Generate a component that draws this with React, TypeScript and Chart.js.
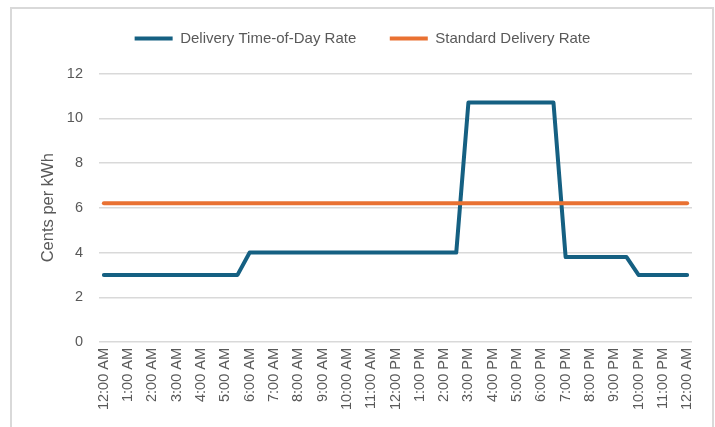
import React, { useEffect, useRef } from "react";
import { Chart, registerables } from "chart.js";

Chart.register(...registerables);

// Hourly tick labels along the x axis
const hourLabels = [
  "12:00 AM", "1:00 AM", "2:00 AM", "3:00 AM", "4:00 AM", "5:00 AM",
  "6:00 AM", "7:00 AM", "8:00 AM", "9:00 AM", "10:00 AM", "11:00 AM",
  "12:00 PM", "1:00 PM", "2:00 PM", "3:00 PM", "4:00 PM", "5:00 PM",
  "6:00 PM", "7:00 PM", "8:00 PM", "9:00 PM", "10:00 PM", "11:00 PM",
  "12:00 AM",
];

// Half-hour slot values (slot 0 = 12:00 AM ... slot 48 = next 12:00 AM)
const touRate = [
  3.0, 3.0, 3.0, 3.0, 3.0, 3.0, 3.0, 3.0, 3.0, 3.0, 3.0, 3.0,
  4.0, 4.0, 4.0, 4.0, 4.0, 4.0, 4.0, 4.0, 4.0, 4.0, 4.0, 4.0,
  4.0, 4.0, 4.0, 4.0, 4.0, 4.0,
  10.7, 10.7, 10.7, 10.7, 10.7, 10.7, 10.7, 10.7,
  3.8, 3.8, 3.8, 3.8, 3.8, 3.8,
  3.0, 3.0, 3.0, 3.0, 3.0,
];

const standardRate = [
  6.2, 6.2, 6.2, 6.2, 6.2, 6.2, 6.2, 6.2, 6.2, 6.2, 6.2, 6.2,
  6.2, 6.2, 6.2, 6.2, 6.2, 6.2, 6.2, 6.2, 6.2, 6.2, 6.2, 6.2,
  6.2, 6.2, 6.2, 6.2, 6.2, 6.2, 6.2, 6.2, 6.2, 6.2, 6.2, 6.2,
  6.2, 6.2, 6.2, 6.2, 6.2, 6.2, 6.2, 6.2, 6.2, 6.2, 6.2, 6.2,
  6.2,
];

const seriesNames = ["Delivery Time-of-Day Rate", "Standard Delivery Rate"];
const yMin = 0;
const yMax = 12;
const yStep = 2;
const slotsPerHour = 2;

const FONT = "'Liberation Sans', Arial, sans-serif";
const TEXT = "#595959";
const GRID = "#d9d9d9";
const BLUE = "#156082";
const ORANGE = "#E97132";

const legendNudge = {
  id: "legendNudge",
  afterLayout(chart: any) {
    const lg = chart.legend;
    if (!lg) return;
    lg.top -= 17.5;
    lg.bottom -= 17.5;
    lg.left += 10.5;
    lg.right += 10.5;
  },
};

export default function App() {
  const ref = useRef<HTMLCanvasElement>(null);

  useEffect(() => {
    const canvas = ref.current;
    if (!canvas) return;
    const chart = new Chart(canvas, {
      type: "line",
      data: {
        datasets: [
          {
            label: seriesNames[0],
            data: touRate.map((y, i) => ({ x: i, y })),
            borderColor: BLUE,
            backgroundColor: BLUE,
            borderWidth: 4,
            borderCapStyle: "round",
            borderJoinStyle: "round",
            pointRadius: 0,
            tension: 0,
            order: 1,
          },
          {
            label: seriesNames[1],
            data: standardRate.map((y, i) => ({ x: i, y })),
            borderColor: ORANGE,
            backgroundColor: ORANGE,
            borderWidth: 4,
            borderCapStyle: "round",
            borderJoinStyle: "round",
            pointRadius: 0,
            tension: 0,
            order: 0,
          },
        ],
      },
      options: {
        responsive: false,
        animation: false,
        layout: { padding: { top: 6, right: 20, bottom: 0, left: 0 } },
        plugins: {
          tooltip: { enabled: false },
          legend: {
            position: "top",
            labels: {
              usePointStyle: true,
              pointStyle: "line",
              pointStyleWidth: 38,
              padding: 33.5,
              color: TEXT,
              font: { family: FONT, size: 15 },
              sort: (a: any, b: any) => a.datasetIndex - b.datasetIndex,
            },
          },
        },
        scales: {
          x: {
            type: "linear",
            min: -0.4,
            max: (hourLabels.length - 1) * slotsPerHour + 0.4,
            afterBuildTicks: (scale: any) => {
              scale.ticks = hourLabels.map((_, i) => ({ value: i * slotsPerHour }));
            },
            afterFit: (scale: any) => {
              scale.height = 87;
            },
            grid: { display: false, drawTicks: false },
            border: { display: false },
            ticks: {
              autoSkip: false,
              minRotation: 90,
              maxRotation: 90,
              padding: 6,
              color: TEXT,
              font: { family: FONT, size: 14.5 },
              callback: (value: any) => hourLabels[Math.round(Number(value) / slotsPerHour)],
            },
          },
          y: {
            min: yMin,
            max: yMax,
            afterFit: (scale: any) => {
              scale.width = 87;
            },
            grid: { color: GRID, lineWidth: 1.5, drawTicks: false },
            border: { display: false },
            ticks: {
              stepSize: yStep,
              padding: 16,
              color: TEXT,
              font: { family: FONT, size: 14.5 },
            },
            title: {
              display: true,
              text: "Cents per kWh",
              color: TEXT,
              font: { family: FONT, size: 16.5 },
              padding: { top: 27, bottom: 0 },
            },
          },
        },
      },
      plugins: [legendNudge],
    } as any);
    return () => chart.destroy();
  }, []);

  return (
    <div
      style={{
        position: "absolute",
        left: 10,
        top: 7,
        width: 704,
        height: 424,
        border: "2px solid #d9d9d9",
        boxSizing: "border-box",
        background: "#ffffff",
      }}
    >
      <canvas ref={ref} width={700} height={420} style={{ display: "block" }} />
    </div>
  );
}
